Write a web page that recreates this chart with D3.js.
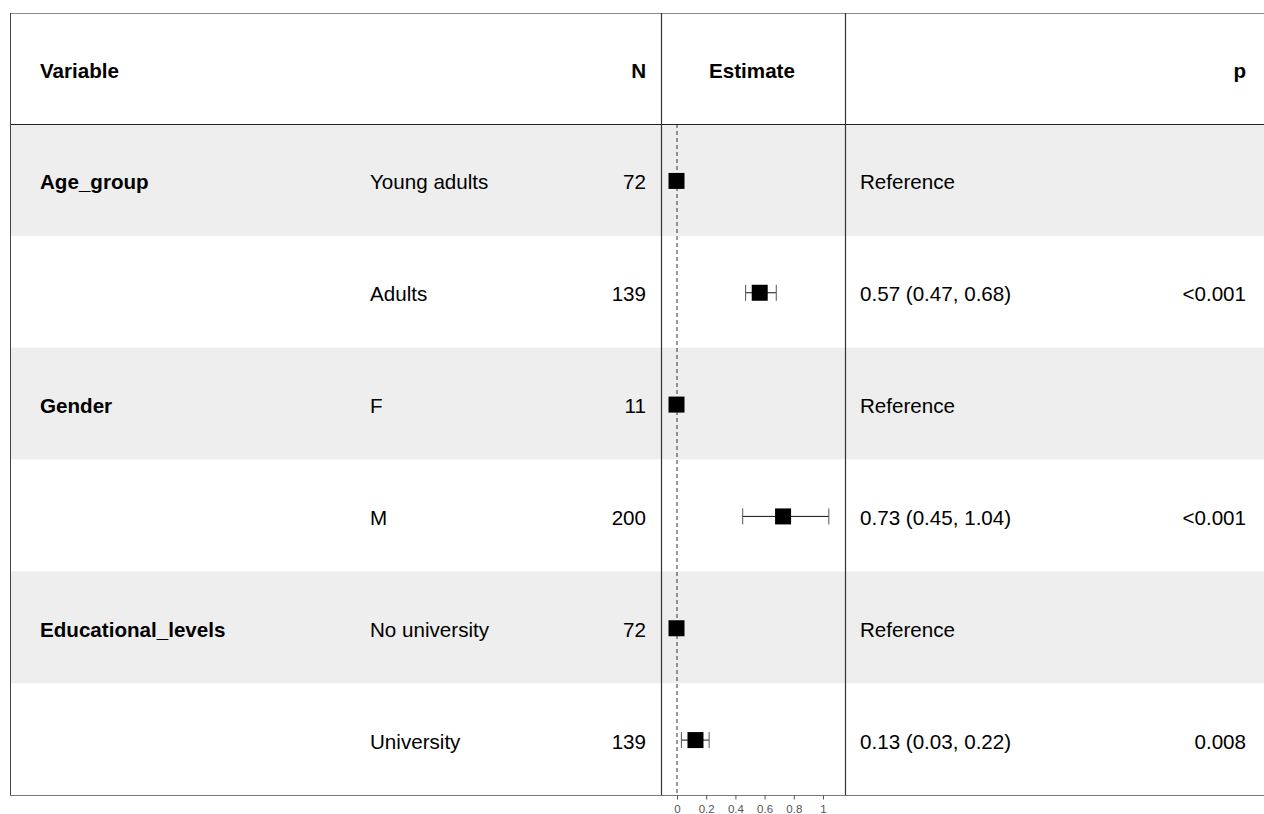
<!DOCTYPE html>
<html>
<head>
<meta charset="utf-8">
<script src="https://cdn.jsdelivr.net/npm/d3@7"></script>
<style>
  html, body { margin: 0; padding: 0; background: #fff; }
  svg { display: block; font-family: "Liberation Sans", Arial, sans-serif; }
</style>
</head>
<body>
<svg id="chart" width="1264" height="814"></svg>
<script>
// Forest-plot table: one row per level of each variable
const variables  = ["Age_group", "", "Gender", "", "Educational_levels", ""];
const levels     = ["Young adults", "Adults", "F", "M", "No university", "University"];
const counts     = [72, 139, 11, 200, 72, 139];
const estimates  = [0, 0.57, 0, 0.73, 0, 0.13];
const lowerCI    = [null, 0.47, null, 0.45, null, 0.03];
const upperCI    = [null, 0.68, null, 1.04, null, 0.22];
const estLabels  = ["Reference", "0.57 (0.47, 0.68)", "Reference", "0.73 (0.45, 1.04)", "Reference", "0.13 (0.03, 0.22)"];
const pLabels    = ["", "<0.001", "", "<0.001", "", "0.008"];
const axisTicks  = [0, 0.2, 0.4, 0.6, 0.8, 1];

(function draw() {
  const svg = d3.select("#chart");

  const tableTop = 13, headerBottom = 124, tableBottom = 795;
  const tableLeft = 10, tableRight = 1264;
  const panelL = 661, panelR = 845;
  const fontSize = 20.6;

  // row bands
  const yBand = d3.scaleBand()
    .domain(d3.range(levels.length))
    .range([headerBottom, tableBottom]);

  // estimate scale
  const x = d3.scaleLinear().domain([0, 1]).range([677, 823]);

  // shaded alternate rows
  svg.append("g").selectAll("rect")
    .data(d3.range(levels.length).filter(i => i % 2 === 0))
    .join("rect")
    .attr("x", tableLeft)
    .attr("y", i => yBand(i))
    .attr("width", tableRight - tableLeft)
    .attr("height", yBand.bandwidth())
    .attr("fill", "#eeeeee");

  // frame lines
  svg.append("line").attr("x1", tableLeft).attr("x2", tableRight).attr("y1", tableTop + 0.5).attr("y2", tableTop + 0.5)
    .attr("stroke", "#8a8a8a").attr("stroke-width", 1.2);
  svg.append("line").attr("x1", tableLeft).attr("x2", tableRight).attr("y1", headerBottom + 0.5).attr("y2", headerBottom + 0.5)
    .attr("stroke", "#222").attr("stroke-width", 1.2);
  svg.append("line").attr("x1", tableLeft).attr("x2", tableRight).attr("y1", tableBottom + 0.5).attr("y2", tableBottom + 0.5)
    .attr("stroke", "#777").attr("stroke-width", 1.2);
  svg.append("line").attr("x1", tableLeft + 0.5).attr("x2", tableLeft + 0.5).attr("y1", tableTop).attr("y2", tableBottom)
    .attr("stroke", "#444").attr("stroke-width", 1);
  [panelL, panelR].forEach(px => {
    svg.append("line").attr("x1", px + 0.5).attr("x2", px + 0.5).attr("y1", tableTop).attr("y2", tableBottom)
      .attr("stroke", "#333").attr("stroke-width", 1.2);
  });

  // reference line at zero
  svg.append("line")
    .attr("x1", x(0)).attr("x2", x(0))
    .attr("y1", headerBottom).attr("y2", tableBottom)
    .attr("stroke", "#333").attr("stroke-width", 1)
    .attr("stroke-dasharray", "4,3");

  // header
  const headerY = (tableTop + headerBottom) / 2 + 2;
  const header = svg.append("g").attr("font-size", fontSize).attr("font-weight", "bold").attr("fill", "#000");
  header.append("text").attr("x", 40).attr("y", headerY).attr("dominant-baseline", "central").text("Variable");
  header.append("text").attr("x", 646).attr("y", headerY).attr("dominant-baseline", "central").attr("text-anchor", "end").text("N");
  header.append("text").attr("x", 752).attr("y", headerY).attr("dominant-baseline", "central").attr("text-anchor", "middle").text("Estimate");
  header.append("text").attr("x", 1246).attr("y", headerY).attr("dominant-baseline", "central").attr("text-anchor", "end").text("p");

  // body text
  const rows = svg.append("g").attr("font-size", fontSize).attr("fill", "#000");
  const cy = i => yBand(i) + yBand.bandwidth() / 2 + 2;
  rows.selectAll(null).data(variables).join("text")
    .attr("x", 40).attr("y", (d, i) => cy(i)).attr("dominant-baseline", "central")
    .attr("font-weight", "bold").text(d => d);
  rows.selectAll(null).data(levels).join("text")
    .attr("x", 370).attr("y", (d, i) => cy(i)).attr("dominant-baseline", "central").text(d => d);
  rows.selectAll(null).data(counts).join("text")
    .attr("x", 646).attr("y", (d, i) => cy(i)).attr("dominant-baseline", "central")
    .attr("text-anchor", "end").text(d => d);
  rows.selectAll(null).data(estLabels).join("text")
    .attr("x", 860).attr("y", (d, i) => cy(i)).attr("dominant-baseline", "central").text(d => d);
  rows.selectAll(null).data(pLabels).join("text")
    .attr("x", 1246).attr("y", (d, i) => cy(i)).attr("dominant-baseline", "central")
    .attr("text-anchor", "end").text(d => d);

  // confidence intervals
  const my = i => yBand(i) + yBand.bandwidth() / 2 + 1;
  const ci = svg.append("g");
  d3.range(levels.length).filter(i => lowerCI[i] !== null).forEach(i => {
    const y0 = my(i);
    ci.append("line").attr("x1", x(lowerCI[i])).attr("x2", x(upperCI[i]))
      .attr("y1", y0).attr("y2", y0).attr("stroke", "#111").attr("stroke-width", 1);
    [lowerCI[i], upperCI[i]].forEach(v => {
      ci.append("line").attr("x1", x(v)).attr("x2", x(v))
        .attr("y1", y0 - 8).attr("y2", y0 + 8).attr("stroke", "#555").attr("stroke-width", 1);
    });
  });

  // point estimates
  const sq = 16;
  svg.append("g").selectAll("rect").data(estimates).join("rect")
    .attr("x", d => x(d) - sq / 2 - 0.5)
    .attr("y", (d, i) => my(i) - sq / 2)
    .attr("width", sq).attr("height", sq)
    .attr("fill", "#000");

  // axis
  const axis = d3.axisBottom(x).tickValues(axisTicks).tickSize(4).tickPadding(5)
    .tickFormat(d => d3.format("~g")(d));
  const ax = svg.append("g").attr("transform", `translate(0,${tableBottom + 0.5})`).call(axis);
  ax.select(".domain").remove();
  ax.selectAll(".tick line").attr("stroke", "#555");
  ax.selectAll(".tick text").attr("fill", "#555").attr("font-size", 11.5)
    .attr("font-family", "Liberation Sans, Arial, sans-serif");
})();
</script>
</body>
</html>
